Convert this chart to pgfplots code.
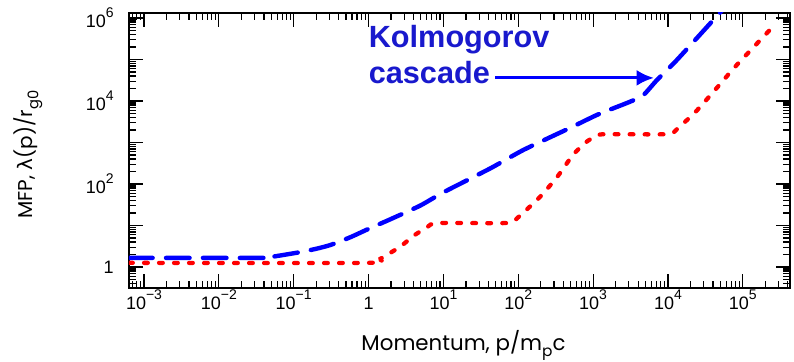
\documentclass[border=0pt]{standalone}
\usepackage{fontspec}
\setmainfont{Liberation Sans}
\newfontfamily\labfont{Poppins}
\newfontfamily\greekfont{DejaVu Sans}
\usepackage{pgfplots}
\pgfplotsset{compat=1.18}
\usetikzlibrary{arrows.meta}
\definecolor{annblue}{RGB}{25,25,205}
\newcommand\tl[1]{10\raisebox{0.55em}{\fontsize{10.5}{10.5}\selectfont #1}}
\begin{document}
\begin{tikzpicture}
\begin{axis}[name=ax,
  scale only axis, width=495.75pt, height=206.25pt,
  xmode=log, ymode=log,
  xmin=6.3e-4, xmax=4.27e5, ymin=0.312, ymax=1.32e6,
  axis line style={line width=1.2pt},
  tick align=inside,
  major tick length=10.5pt, minor tick length=5.5pt,
  every tick/.style={black, line width=0.9pt},
  xtick={1e-3,1e-2,1e-1,1,10,100,1e3,1e4,1e5},
  xticklabels={\tl{−3},\tl{−2},\tl{−1},1,\tl{1},\tl{2},\tl{3},\tl{4},\tl{5}},
  minor xtick={2e-4,3e-4,4e-4,5e-4,6e-4,7e-4,8e-4,9e-4,
    2e-3,3e-3,4e-3,5e-3,6e-3,7e-3,8e-3,9e-3,
    2e-2,3e-2,4e-2,5e-2,6e-2,7e-2,8e-2,9e-2,
    0.2,0.3,0.4,0.5,0.6,0.7,0.8,0.9,
    2,3,4,5,6,7,8,9,20,30,40,50,60,70,80,90,
    200,300,400,500,600,700,800,900,
    2e3,3e3,4e3,5e3,6e3,7e3,8e3,9e3,
    2e4,3e4,4e4,5e4,6e4,7e4,8e4,9e4,
    2e5,3e5,4e5},
  ytick={1,10,100,1e3,1e4,1e5,1e6},
  yticklabels={1,,\tl{2},,\tl{4},,\tl{6}},
  minor ytick={0.4,0.5,0.6,0.7,0.8,0.9,
    2,3,4,5,6,7,8,9,20,30,40,50,60,70,80,90,
    200,300,400,500,600,700,800,900,
    2e3,3e3,4e3,5e3,6e3,7e3,8e3,9e3,
    2e4,3e4,4e4,5e4,6e4,7e4,8e4,9e4,
    2e5,3e5,4e5,5e5,6e5,7e5,8e5,9e5},
  ticklabel style={font=\fontsize{13.5}{16}\selectfont},
  xticklabel style={text height=1.15em, text depth=0.1em, yshift=-1pt},
  yticklabel style={xshift=-8pt},
]
\addplot[blue, line width=3.3pt, line cap=round, dash pattern=on 17.7pt off 10pt, smooth, tension=0.35] coordinates {
(6.31e-4,1.66) (0.0398,1.66) (0.049,1.74) (0.0794,2.0) (0.123,2.29) (0.2,2.75)
(0.309,3.39) (0.575,5.25) (1,8.3) (1.95,14.1) (4.9,30.2) (10,63) (42.7,240)
(117,661) (490,2239) (1175,4786) (3090,9550) (4677,13800) (7079,31620)
(13180,97720) (48980,1.318e6) (63100,2.19e6)
};
\addplot[red, line width=3.2pt, line cap=round, dash pattern=on 2.8pt off 8.45pt, smooth, tension=0.35] coordinates {
(6.31e-4,1.26) (1,1.26) (1.445,1.585) (2.69,3.16) (3.98,5.62) (6.17,9.33)
(8.32,11.5) (70.8,11.5) (100,15.85) (195,49) (331,148) (537,501) (794,1000)
(1072,1413) (1413,1585) (9772,1585) (13180,2089) (24550,6026) (44670,20420)
(83180,74130) (281800,758600)
};
\node[anchor=base west, text=annblue, font=\fontsize{23}{26}\selectfont\bfseries, inner sep=0pt] at (axis cs:1,1.9e5) {Kolmogorov};
\node[anchor=base west, text=annblue, font=\fontsize{23}{26}\selectfont\bfseries, inner sep=0pt] at (axis cs:1,2.7e4) {cascade};
\draw[blue, line width=2.3pt, -{Latex[length=13pt,width=12pt]}] (axis cs:49,3.6e4) -- (axis cs:6500,3.6e4);
\end{axis}
\node[font=\fontsize{16}{18}\selectfont\labfont] at ([xshift=3pt,yshift=-43pt]ax.south) {Momentum, p/m\raisebox{-0.3em}{\fontsize{11.5}{11.5}\selectfont p}c};
\node[rotate=90, font=\fontsize{15}{18}\selectfont\labfont] at ([xshift=-75.75pt,yshift=-3pt]ax.west) {MFP, {\greekfont λ}(p)/r\raisebox{-0.3em}{\fontsize{11}{11}\selectfont g0}};
\pgfresetboundingbox
\path[use as bounding box] ([xshift=-96.75pt,yshift=-54.75pt]ax.south west) rectangle ([xshift=3pt,yshift=9.75pt]ax.north east);
\end{tikzpicture}
\end{document}
